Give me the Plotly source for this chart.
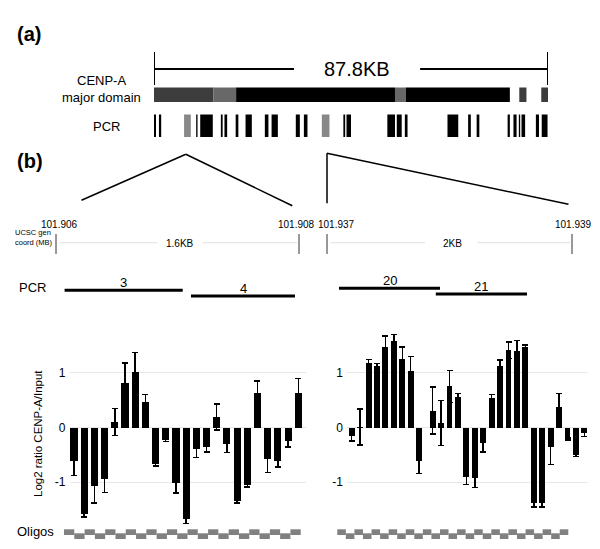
import plotly.graph_objects as go

W, H = 600, 549
FONT = "Liberation Sans, Arial, Helvetica, sans-serif"

# ---------------- data ----------------
# (a) CENP-A major domain segments (kb from left end of the 87.8 kb domain)
domain_total_kb = 87.8
dom_start = [0.0, 13.2, 18.3, 53.7, 56.1, 81.4, 86.3]
dom_end = [13.2, 18.3, 53.7, 56.1, 79.3, 83.0, 87.8]
dom_kind = ["flank", "gap", "core", "gap", "core", "flank", "flank"]

# (a) PCR amplicons (kb); selected ones (shown in (b)) are drawn grey
pcr_start = [0.0, 1.1, 6.7, 9.4, 10.3, 14.9, 15.7, 18.2, 20.4, 24.7, 26.2, 31.6, 33.4, 37.4,
             42.2, 42.9, 52.0, 54.1, 55.9, 65.4, 70.0, 71.9, 78.8, 80.1, 81.3, 81.9, 85.1, 86.4]
pcr_end = [0.45, 1.6, 8.2, 9.7, 13.1, 15.3, 16.3, 18.8, 21.8, 25.5, 27.6, 32.5, 34.2, 39.1,
           42.6, 43.9, 53.7, 55.2, 56.5, 67.8, 70.6, 72.5, 79.3, 80.8, 81.6, 82.7, 85.8, 87.7]
pcr_selected = [False, False, True, False, False, False, False, False, False, False, False,
                False, False, True, False, False, False, False, False, False, False, False,
                False, False, False, False, False, False]

# (b) coordinate labels
coord_labels = ["101.906", "101.908", "101.937", "101.939"]
span_labels = ["1.6KB", "2KB"]
pcr_b_labels = ["3", "4", "20", "21"]

# (b) bar data, left region (oligo index) and right region
left_x = list(range(23))
left_vals = [-0.61, -1.59, -1.06, -0.95, 0.10, 0.81, 1.02, 0.47, -0.66, -0.22, -1.01, -1.67,
             -0.40, -0.36, 0.19, -0.30, -1.35, -1.05, 0.63, -0.57, -0.61, -0.24, 0.63]
left_err = [0.27, 0.05, 0.32, 0.24, 0.25, 0.37, 0.35, 0.13, 0.04, 0.04, 0.19, 0.08,
            0.15, 0.09, 0.24, 0.16, 0.03, 0.04, 0.22, 0.25, 0.11, 0.12, 0.27]

right_x = [0, 1, 2, 3, 4, 5, 6, 7, 8, 9.6, 10.6, 11.6, 12.6, 13.6, 14.6, 15.6, 16.6, 17.6,
           18.6, 19.6, 20.6, 21.6, 22.6, 23.6, 24.6, 25.6, 26.6, 27.6]
right_vals = [-0.15, 0.01, 1.18, 1.12, 1.47, 1.59, 1.26, 1.04, -0.62, 0.31, 0.08, 0.75, 0.55,
              -0.90, -0.92, -0.29, 0.54, 1.12, 1.41, 1.39, 1.48, -1.38, -1.38, -0.36, 0.37,
              -0.21, -0.51, -0.10]
right_err = [0.10, 0.33, 0.06, 0.05, 0.20, 0.11, 0.21, 0.26, 0.22, 0.43, 0.41, 0.29, 0.07,
             0.14, 0.18, 0.16, 0.06, 0.11, 0.15, 0.20, 0.03, 0.07, 0.07, 0.32, 0.25, 0.02,
             0.02, 0.06]

n_oligos_left = 23
n_oligos_right = 27

# ---------------- helpers ----------------
def px(x):
    return x / W


def py(y):
    return 1 - y / H


shapes = []
annotations = []


def line(x0, y0, x1, y1, color="black", width=1.5):
    shapes.append(dict(type="line", xref="paper", yref="paper", x0=px(x0), y0=py(y0),
                       x1=px(x1), y1=py(y1), line=dict(color=color, width=width)))


def text(x, y, s, size=13, xanchor="center", yanchor="middle", bold=False, align="center"):
    annotations.append(dict(xref="paper", yref="paper", x=px(x), y=py(y), text=(f"<b>{s}</b>" if bold else s),
                            showarrow=False, xanchor=xanchor, yanchor=yanchor, align=align,
                            font=dict(family=FONT, size=size, color="black")))


fig = go.Figure()

# ---------------- (a) ----------------
text(15, 34, "(a)", size=20, xanchor="left", bold=True)
kind_color = {"flank": "#3d3d3d", "gap": "#686868", "core": "#000000"}
for s, e, k in zip(dom_start, dom_end, dom_kind):
    shapes.append(dict(type="rect", xref="x3", yref="paper", x0=s, x1=e, y0=py(102), y1=py(87.5),
                       fillcolor=kind_color[k], line=dict(width=0)))
for s, e, sel in zip(pcr_start, pcr_end, pcr_selected):
    shapes.append(dict(type="rect", xref="x3", yref="paper", x0=s, x1=e, y0=py(137), y1=py(114.5),
                       fillcolor="#888888" if sel else "#000000", line=dict(width=0)))
# 87.8 KB scale bar
for xv in (0, domain_total_kb):
    shapes.append(dict(type="line", xref="x3", yref="paper", x0=xv, x1=xv, y0=py(85), y1=py(52),
                       line=dict(color="black", width=2)))
shapes.append(dict(type="line", xref="x3", yref="paper", x0=0, x1=31.2, y0=py(69), y1=py(69),
                   line=dict(color="black", width=2)))
shapes.append(dict(type="line", xref="x3", yref="paper", x0=59.3, x1=domain_total_kb, y0=py(69), y1=py(69),
                   line=dict(color="black", width=2)))
text(357, 69, f"{domain_total_kb}KB", size=20)
text(101, 81, "CENP-A", size=13)
text(101, 97, "major domain", size=13)
text(106, 127, "PCR", size=13)

fig.add_trace(go.Scatter(x=[0, domain_total_kb], y=[0, 0], xaxis="x3", yaxis="y3", mode="markers",
                         marker=dict(opacity=0), hoverinfo="skip", showlegend=False))

# ---------------- (b) top ----------------
text(15, 161, "(b)", size=20, xanchor="left", bold=True)
line(185.8, 154.3, 81.5, 200.3)
line(185.8, 154.3, 292.3, 205.7)
line(327, 153.3, 327, 203.3)
line(327, 153.3, 568.5, 204.3)

# coordinate ruler
for xv in (56, 299, 327, 572):
    line(xv, 234, xv, 254, color="#333333", width=1)
line(60, 242.7, 157, 242.7, color="#e0e0e0", width=1)
line(203, 242.7, 297, 242.7, color="#e0e0e0", width=1)
line(331, 242.7, 425, 242.7, color="#e0e0e0", width=1)
line(477, 242.7, 570, 242.7, color="#e0e0e0", width=1)
for xc, lab in zip([59.5, 296.7, 336, 573], coord_labels):
    text(xc, 224.5, lab, size=10)
text(179.5, 243, span_labels[0], size=10)
text(452, 243, span_labels[1], size=10)
text(13, 238, "UCSC gen<br>coord (MB)", size=7.5, xanchor="left", align="left")

# PCR amplicons in (b)
text(17, 287, "PCR", size=13, xanchor="left")
pcr_b_geom = [(64.6, 182.7, 290.3), (191, 295, 296), (339, 440, 288.3), (435.8, 527, 294)]
for (x0, x1, yy), lab in zip(pcr_b_geom, pcr_b_labels):
    line(x0, yy, x1, yy, width=3)
    text((x0 + x1) / 2, yy - 8, lab, size=13)

# ---------------- (b) bars ----------------
err_style = dict(type="data", color="black", thickness=1.5, width=3)
fig.add_trace(go.Bar(x=left_x, y=left_vals, width=0.7, marker=dict(color="black", line=dict(width=0)),
                     error_y=dict(array=left_err, **err_style), xaxis="x", yaxis="y", showlegend=False))
fig.add_trace(go.Bar(x=right_x, y=right_vals, width=0.7, marker=dict(color="black", line=dict(width=0)),
                     error_y=dict(array=right_err, **err_style), xaxis="x2", yaxis="y2", showlegend=False))

annotations.append(dict(xref="paper", yref="paper", x=px(38), y=py(434), text="Log2 ratio CENP-A/Input",
                        textangle=-90, showarrow=False, xanchor="center", yanchor="middle",
                        font=dict(family=FONT, size=11.5, color="black")))
text(15, 531.5, "Oligos", size=13, xanchor="left")

# oligo tiles (alternating up/down)
def tiles(x_start, x_end, n):
    step = (x_end - x_start) / n
    for i in range(n):
        up = i % 2 == 0
        shapes.append(dict(type="rect", xref="paper", yref="paper",
                           x0=px(x_start + i * step), x1=px(x_start + (i + 1) * step),
                           y0=py(535 if up else 539), y1=py(529.3 if up else 533.3),
                           fillcolor="#808080", line=dict(width=0)))


tiles(64, 300.7, n_oligos_left)
tiles(337.3, 568.3, n_oligos_right)

yr = [-1.782, 1.782]
ydom = [py(525), py(330)]
yax = dict(range=yr, domain=ydom, tickvals=[-1, 0, 1], ticktext=["-1", "0", "1"], showgrid=True,
           gridcolor="#e8e8e8", gridwidth=1, zeroline=False, showline=False, ticks="",
           tickfont=dict(family=FONT, size=12, color="black"), ticklabelstandoff=3, fixedrange=True)
xax = dict(showgrid=False, zeroline=False, showline=False, showticklabels=False, ticks="", fixedrange=True)

fig.update_layout(
    width=W, height=H, autosize=False,
    margin=dict(l=0, r=0, t=0, b=0),
    paper_bgcolor="white", plot_bgcolor="white",
    showlegend=False, bargap=0,
    xaxis=dict(domain=[px(69.5), px(305.5)], range=[-0.44, 22.71], anchor="y", **xax),
    yaxis=dict(anchor="x", **yax),
    xaxis2=dict(domain=[px(347), px(588)], range=[-0.56, 28.03], anchor="y2", **xax),
    yaxis2=dict(anchor="x2", **yax),
    xaxis3=dict(domain=[px(154), px(548)], range=[0, domain_total_kb], anchor="y3", visible=False),
    yaxis3=dict(domain=[py(140), py(110)], range=[-1, 1], anchor="x3", visible=False),
    shapes=shapes,
    annotations=annotations,
)

fig.write_html("out.html", config={"displayModeBar": False, "staticPlot": True},
               post_script="document.body.style.margin='0';document.body.style.padding='0';"
                           "document.documentElement.style.overflow='hidden';")
